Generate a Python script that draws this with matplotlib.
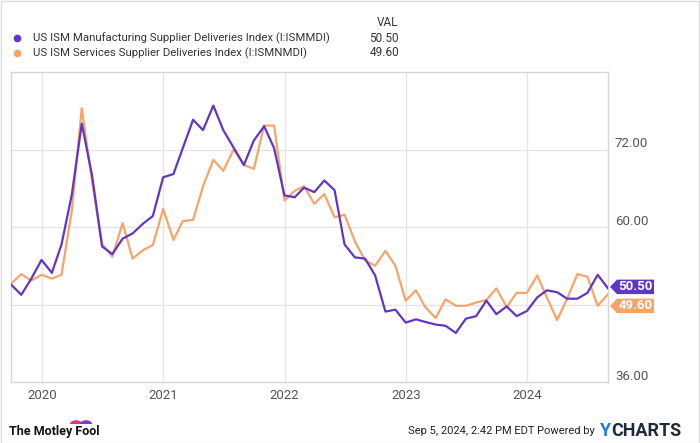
import matplotlib
matplotlib.use("Agg")
import matplotlib.pyplot as plt
import matplotlib.dates as mdates
from matplotlib.patches import Polygon, Rectangle, Wedge
import pandas as pd

plt.rcParams['font.family'] = ['Roboto', 'DejaVu Sans']

# monthly values, Sep 2019 .. Aug 2024
dates = pd.date_range("2019-09-30", periods=60, freq="ME")

manufacturing = [
    51.1, 49.5, 52.0, 54.9,
    52.9, 57.3, 65.0, 76.0, 68.0, 57.0, 55.8, 58.2, 59.0, 60.5, 61.7, 67.7,
    68.2, 72.2, 76.6, 75.0, 78.8, 75.0, 72.3, 69.6, 73.4, 75.6, 72.2, 64.9,
    64.6, 66.1, 65.4, 67.2, 65.7, 57.3, 55.3, 55.1, 52.5, 46.9, 47.2, 45.2,
    45.7, 45.3, 44.9, 44.7, 43.6, 45.8, 46.2, 48.6, 46.5, 47.7, 46.2, 47.0,
    49.1, 50.2, 49.9, 48.9, 48.9, 49.8, 52.6, 50.5,
]
services = [
    51.2, 52.7, 51.7, 52.6,
    52.0, 52.6, 62.5, 78.4, 67.0, 57.4, 55.4, 60.6, 55.1, 56.4, 57.2, 62.8,
    58.0, 60.9, 61.1, 66.3, 70.4, 68.7, 72.0, 69.6, 69.0, 75.7, 75.7, 64.1,
    65.6, 66.3, 63.6, 65.1, 61.5, 61.9, 57.8, 54.8, 54.0, 56.3, 54.0, 48.6,
    50.2, 47.6, 45.9, 48.8, 47.8, 47.8, 48.3, 48.7, 50.5, 47.6, 49.8, 49.8,
    52.5, 49.1, 45.6, 48.9, 52.7, 52.3, 47.8, 49.6,
]

names = [
    "US ISM Manufacturing Supplier Deliveries Index (I:ISMMDI)",
    "US ISM Services Supplier Deliveries Index (I:ISMNMDI)",
]
last_vals = ["50.50", "49.60"]
purple = "#6236c5"
orange = "#f7a469"
grid_c = "#e4e4e4"
text_c = "#555555"

W, H = 700, 443
fig = plt.figure(figsize=(7, 4.43), dpi=100)
ax = fig.add_axes([11 / W, 1 - 382 / H, 597 / W, 310 / H])

ax.plot(dates, manufacturing, color=purple, lw=1.6, zorder=3)
ax.plot(dates, services, color=orange, lw=1.6, zorder=2)

ax.set_xlim(pd.Timestamp("2019-09-30"), pd.Timestamp("2024-08-31"))
ax.set_ylim(36, 84)

years = [pd.Timestamp(f"{y}-01-01") for y in range(2020, 2025)]
ax.set_xticks(years)
ax.xaxis.set_major_formatter(mdates.DateFormatter("%Y"))
ax.tick_params(axis="x", length=0, pad=5, labelsize=9.5, colors=text_c)
ax.set_yticks([48, 60, 72])
ax.tick_params(axis="y", length=0, labelleft=False)
ax.grid(True, color=grid_c, lw=0.9)
for s in ax.spines.values():
    s.set_color("#d6d6d6")
    s.set_linewidth(1.0)

# right side value labels (48 hidden behind the tags)
for v in [36, 60, 72]:
    ax.annotate(f"{v:.2f}", xy=(1, v), xycoords=("axes fraction", "data"),
                xytext=(5, 4), textcoords="offset points",
                ha="left", va="center", fontsize=9.5, color=text_c)

# end-of-series tags
fig.canvas.draw()
to_fig = fig.transFigure.inverted()
x0 = ax.transAxes.transform((1, 0))[0] + 2
tag_h, tag_w, tip = 14.5, 44, 7
y_m = ax.transData.transform((0, manufacturing[-1]))[1] + 1.5
y_s = min(ax.transData.transform((0, services[-1]))[1], y_m - tag_h - 4.5)
for yc, col, txt in [(y_m, purple, last_vals[0]), (y_s, orange, last_vals[1])]:
    pts = [(x0, yc), (x0 + tip, yc + tag_h / 2), (x0 + tag_w, yc + tag_h / 2),
           (x0 + tag_w, yc - tag_h / 2), (x0 + tip, yc - tag_h / 2)]
    pts = to_fig.transform(pts)
    fig.add_artist(Polygon(pts, closed=True, facecolor=col, edgecolor="none",
                           transform=fig.transFigure))
    tx, ty = to_fig.transform((x0 + tip + (tag_w - tip) / 2, yc))
    fig.text(tx, ty, txt, color="white", fontsize=9.5, fontweight="bold",
             ha="center", va="center")

# legend
fig.text(398 / W, 1 - 22 / H, "VAL", ha="right", va="center", fontsize=8.5, color="#333333")
for i, (nm, col, val) in enumerate(zip(names, [purple, orange], last_vals)):
    yy = 1 - (38 + 15 * i) / H
    fig.add_artist(plt.Line2D([17 / W], [yy], marker="o", markersize=4.5,
                              color=col, transform=fig.transFigure))
    fig.text(33 / W, yy, nm, ha="left", va="center", fontsize=8.2, color="#333333")
    fig.text(399 / W, yy, val, ha="right", va="center", fontsize=8.5, color="#333333")

# footer
fig.text(9 / W, 1 - 431 / H, "The Motley Fool", ha="left", va="center",
         fontsize=9, fontweight="bold", color="#111111")
for cx, col in [(76 / W, "#e0358c"), (86 / W, "#7a3fc0")]:
    fig.add_artist(Wedge((cx, 1 - 424 / H), 6 / W, 0, 180, facecolor=col,
                         edgecolor="none", transform=fig.transFigure))
fig.text(595 / W, 1 - 431 / H, "Sep 5, 2024, 2:42 PM EDT Powered by", ha="right",
         va="center", fontsize=8, color="#222222")
fig.text(600 / W, 1 - 431 / H, "Y", ha="left", va="center", fontsize=13,
         fontweight="bold", color="#1f7ae0")
fig.text(611 / W, 1 - 431 / H, "CHARTS", ha="left", va="center", fontsize=13,
         fontweight="bold", color="#1e2a3a")

fig.add_artist(Rectangle((0.5 / W, 0.5 / H), 1 - 1.5 / W, 1 - 1.5 / H, fill=False,
                         edgecolor="#dddddd", lw=1, transform=fig.transFigure))

fig.savefig("out.png", dpi=100, facecolor="white")
